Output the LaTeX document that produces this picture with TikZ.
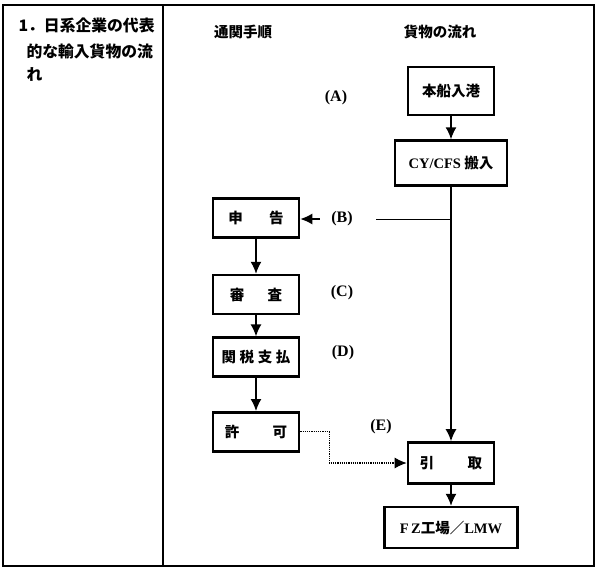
\documentclass[tikz,border=0pt]{standalone}
\usepackage{fontspec}
\setmainfont{Liberation Serif}
\newfontfamily\jpfont{Noto Sans CJK JP}
\usetikzlibrary{positioning}
\usetikzlibrary{calc,arrows.meta}

\begin{document}
\begin{tikzpicture}[
    x=1pt, y=-1pt, % one unit = one pixel of the scan, y pointing down
    node distance=21pt,
    font=\jpfont\bfseries\fontsize{14.5}{17}\selectfont,
    >={Latex[length=12pt,width=11pt]}
  ]

  % Styles
  \tikzset{
    proc/.style={draw, line width=2.6pt, minimum width=86pt, minimum height=39pt, align=center, inner sep=2pt},
    tag/.style={font=\rmfamily\bfseries\fontsize{16}{18}\selectfont},
    flow/.style={->, line width=1.5pt},
    hint/.style={line width=1pt}
  }

  % Frame of the table
  \useasboundingbox (0,0) rectangle (600,573);
  \draw[line width=1.8pt] (3,5) rectangle (594,566);
  \draw[line width=1.8pt] (163,5) -- (163,566);

  % Left column text
  \node (ttl1) [anchor=west, font=\jpfont\bfseries\fontsize{15.8}{18}\selectfont] at (15,25) {1．日系企業の代表};
  \node (ttl2) [anchor=west, font=\jpfont\bfseries\fontsize{15.8}{18}\selectfont] at (23,51) {的な輸入貨物の流};
  \node (ttl3) [anchor=west, font=\jpfont\bfseries\fontsize{15.8}{18}\selectfont] at (23,74) {れ};

  % Column heads
  \node (headL) at (243,32) {通関手順};
  \node (headR) at (440,32) {貨物の流れ};

  % Customs steps
  \node (shinkoku) [proc] at (256,218) {申\hspace{1.8em}告};
  \node (shinsa)   [proc, below=35pt of shinkoku] {審\hspace{1.6em}査};
  \node (kanzei)   [proc, below=of shinsa] {関\hspace{0.25em}税\hspace{0.25em}支\hspace{0.25em}払};
  \node (kyoka)    [proc, below=33pt of kanzei] {許\hspace{2.3em}可};

  % Cargo flow
  \node (honsen)   [proc, minimum height=48pt] at (451,91) {本船入港};
  \node (cyin)     [proc, minimum width=112pt, minimum height=45pt, below=23pt of honsen] {{\rmfamily CY/CFS} 搬入};
  \node (hikitori) [proc, minimum height=41pt] at (451,463) {引\hspace{2.3em}取};
  \node (fzlmw)    [proc, minimum width=133pt, minimum height=41pt, below=of hikitori] {{\rmfamily F\,Z}工場／{\rmfamily LMW}};

  % Stage marks
  \node (markA) [tag] at (336,98) {(A)};
  \node (markB) [tag] at (342,219) {(B)};
  \node (markC) [tag] at (342,293) {(C)};
  \node (markD) [tag] at (343,353) {(D)};
  \node (markE) [tag] at (381,427) {(E)};

  % Connections
  \draw[flow] (honsen) -- (cyin);
  \draw[flow] (cyin) -- (hikitori);
  \draw[flow] (hikitori) -- (fzlmw);
  \draw[flow] (shinkoku) -- (shinsa);
  \draw[flow] (shinsa) -- (kanzei);
  \draw[flow] (kanzei) -- (kyoka);
  \draw[flow, shorten <=8pt] (markB.west) -- (markB.west -| shinkoku.east);
  \draw[hint, shorten <=20pt] (markB.east) -- (markB.east -| cyin.south);
  \draw[->, line width=1.2pt, densely dotted] (kyoka.east) -- ++(29,0) |- (hikitori.west);

\end{tikzpicture}
\end{document}
